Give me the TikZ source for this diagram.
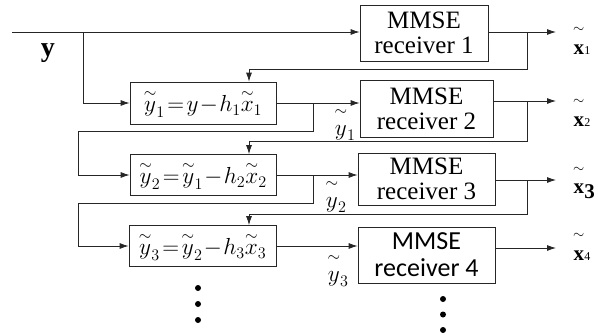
\documentclass[tikz,border=0pt]{standalone}
\usepackage{amsmath}
\usepackage{fontspec}
\setmainfont{Liberation Serif}
\newfontfamily\calib{Carlito}
\usetikzlibrary{arrows.meta}

\tikzset{
  blk/.style={draw=black!85, line width=0.8pt, rectangle, inner sep=0pt, align=center},
  wire/.style={draw=black!85, line width=0.8pt},
  arr/.style={wire, -{Latex[length=9pt,width=6pt]}},
  rxfont/.style={font=\fontsize{25}{25}\selectfont},
  eqfont/.style={font=\fontsize{20.74}{21}\selectfont},
  outlbl/.style={font=\fontsize{21}{21}\selectfont, inner sep=0pt},
}
\newcommand{\tld}[2][2pt]{\overset{\raisebox{#1}{$\scriptstyle\sim$}}{#2}}
\newcommand{\sm}[1]{{\fontsize{12}{12}\selectfont #1}}
\newcommand{\tight}{\medmuskip=1mu\thickmuskip=2mu}
\newcommand{\eqn}[1]{\scalebox{1.12}{$\tight #1$}}

\begin{document}
\begin{tikzpicture}[x=1pt,y=-1pt]
\useasboundingbox (0,0) rectangle (598,335);

% receivers
\node[blk, rxfont, minimum width=128pt, minimum height=56pt] (rx1) at (424,33) {MMSE\\receiver 1};
\node[blk, rxfont, minimum width=133pt, minimum height=57pt] (rx2) at (426.5,108.5) {MMSE\\receiver 2};
\node[blk, rxfont, minimum width=137pt, minimum height=52pt] (rx3) at (426.5,179) {MMSE\\receiver 3};
\node[blk, font=\calib\fontsize{26}{27}\selectfont, minimum width=137pt, minimum height=56pt] (rx4) at (426.5,255) {MMSE\\receiver 4};

% cancellation stages
\node[blk, eqfont, minimum width=146pt, minimum height=42pt] (sub1) at (203,103) {\eqn{\tld[0pt]{y}_1 = y - h_1 \tld[0pt]{x}_1}};
\node[blk, eqfont, minimum width=146pt, minimum height=41pt] (sub2) at (203,175) {\eqn{\tld[0pt]{y}_2 = \tld[0pt]{y}_1 - h_2 \tld[0pt]{x}_2}};
\node[blk, eqfont, minimum width=147pt, minimum height=41pt] (sub3) at (202.5,246) {\eqn{\tld[0pt]{y}_3 = \tld[0pt]{y}_2 - h_3 \tld[0pt]{x}_3}};

% labels
\node[font=\fontsize{28}{28}\selectfont\bfseries] (ylbl) at (48,53) {y};
\node[eqfont] (yt1) at (345,124) {\eqn{\tld[4pt]{y}_1}};
\node[eqfont] (yt2) at (336,196) {\eqn{\tld[4pt]{y}_2}};
\node[eqfont] (yt3) at (338,270) {\eqn{\tld[4pt]{y}_3}};

\node[outlbl, anchor=west] (xt1) at (573,40) {$\tld[8pt]{\textbf{x}}$\sm{1}};
\node[outlbl, anchor=west] (xt2) at (573,112) {$\tld[8pt]{\textbf{x}}$\sm{2}};
\node[outlbl, anchor=west] (xt3) at (573,182) {$\tld[8pt]{\textbf{x}}$\raisebox{-5pt}{\textbf{3}}};
\node[outlbl, anchor=west] (xt4) at (573,246) {$\tld[8pt]{\textbf{x}}$\sm{4}};

% junction points
\coordinate (in) at (12,32);
\coordinate (tap0) at (83,32);
\coordinate (fx) at (527,0);
\coordinate (kx) at (249,0);
\coordinate (bx) at (313,0);
\coordinate (lx) at (78,0);
\coordinate (ox) at (556,0);
\coordinate (fb1) at (0,69);
\coordinate (fb2) at (0,141);
\coordinate (fb3) at (0,214);
\coordinate (w1) at (0,131);
\coordinate (w2) at (0,203);
\coordinate (o1) at (0,32);
\coordinate (o2) at (0,101);
\coordinate (o3) at (0,180);
\coordinate (o4) at (0,248);

% main input
\draw[arr] (in) -- (in -| rx1.west);
\draw[arr] (tap0) |- (sub1.west);

% outputs
\draw[arr] (rx1.east |- o1) -- (ox |- o1);
\draw[arr] (rx2.east |- o2) -- (ox |- o2);
\draw[arr] (rx3.east |- o3) -- (ox |- o3);
\draw[arr] (rx4.east |- o4) -- (ox |- o4);

% feedback of decisions
\draw[arr] (fx |- o1) |- (kx |- fb1) -- (kx |- sub1.north);
\draw[arr] (fx |- o2) |- (kx |- fb2) -- (kx |- sub2.north);
\draw[arr] (fx |- o3) |- (kx |- fb3) -- (kx |- sub3.north);

% stage outputs to receivers and next stage
\draw[arr] (sub1.east) -- (sub1.east -| rx2.west);
\draw[arr] (sub2.east) -- (sub2.east -| rx3.west);
\draw[arr] (sub3.east) -- (sub3.east -| rx4.west);
\draw[arr] (bx |- sub1.east) |- (lx |- w1) |- (sub2.west);
\draw[arr] (bx |- sub2.east) |- (lx |- w2) |- (sub3.west);

% continuation dots
\foreach \d in {0,1,2} {
  \fill (198,288+16*\d) circle (3);
  \fill (443,299+15.5*\d) circle (3);
}

\end{tikzpicture}
\end{document}
